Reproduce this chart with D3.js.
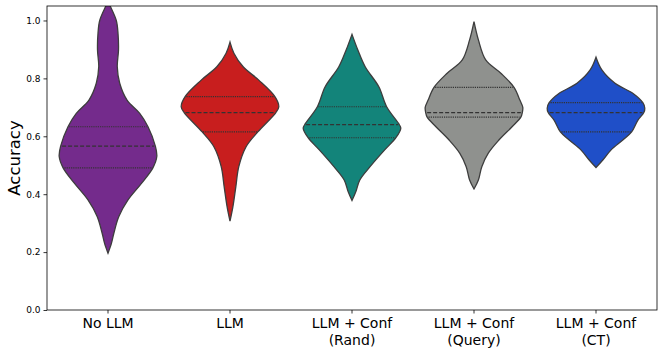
<!DOCTYPE html>
<html><head><meta charset="utf-8">
<script src="https://cdn.jsdelivr.net/npm/d3@7"></script>
<style>body{margin:0;background:#fff}</style></head>
<body><svg id="c" width="665" height="354"></svg>
<script>
const categories = ["No LLM", "LLM", "LLM + Conf\n(Rand)", "LLM + Conf\n(Query)", "LLM + Conf\n(CT)"];
const colors = ["#742b8c", "#c81e1e", "#13847a", "#8f918e", "#1f4fc8"];
const q1 = [0.491, 0.615, 0.595, 0.666, 0.615];
const medians = [0.566, 0.682, 0.640, 0.682, 0.682];
const q3 = [0.633, 0.737, 0.702, 0.769, 0.716];
const yTicks = [0, 0.2, 0.4, 0.6, 0.8, 1.0];

// density profiles: [accuracy, relative half-width]
const densityNoLLM = [[0.196,0],[0.230,0.07],[0.265,0.12],[0.322,0.22],[0.380,0.41],[0.438,0.69],[0.491,0.92],[0.530,1.0],[0.566,0.97],[0.633,0.82],[0.679,0.65],[0.725,0.39],[0.783,0.24],[0.840,0.19],[0.898,0.215],[0.956,0.205],[1.000,0.17],[1.048,0.05],[1.065,0]];
const densityLLM = [[0.307,0],[0.357,0.06],[0.426,0.12],[0.495,0.18],[0.564,0.33],[0.615,0.57],[0.682,0.94],[0.702,1.0],[0.737,0.92],[0.794,0.59],[0.840,0.27],[0.887,0.08],[0.925,0]];
const densityRand = [[0.378,0],[0.409,0.08],[0.449,0.16],[0.495,0.37],[0.553,0.67],[0.595,0.9],[0.628,1.0],[0.640,0.97],[0.702,0.71],[0.771,0.55],[0.840,0.27],[0.898,0.12],[0.952,0]];
const densityQuery = [[0.418,0],[0.449,0.09],[0.495,0.16],[0.541,0.29],[0.587,0.51],[0.633,0.78],[0.666,0.96],[0.682,0.99],[0.700,1.0],[0.725,0.94],[0.769,0.82],[0.818,0.55],[0.864,0.24],[0.933,0.09],[0.996,0]];
const densityCT = [[0.492,0],[0.518,0.14],[0.553,0.31],[0.587,0.55],[0.615,0.73],[0.656,0.86],[0.682,0.98],[0.697,1.0],[0.716,0.96],[0.748,0.76],[0.783,0.39],[0.829,0.12],[0.873,0]];
const densities = [densityNoLLM, densityLLM, densityRand, densityQuery, densityCT];

const svg = d3.select("#c");
const m = {l: 47, r: 8, t: 6, b: 44};
const W = 665, H = 354;
const x = d3.scaleBand().domain(categories).range([m.l, W - m.r]).padding(0);
const y = d3.scaleLinear().domain([0, 1.05]).range([H - m.b, m.t]);
const w = d3.scaleLinear().domain([0, 1]).range([0, x.bandwidth() * 0.4]);

svg.append("defs").append("clipPath").attr("id", "clip")
  .append("rect").attr("x", m.l).attr("y", m.t).attr("width", W - m.l - m.r).attr("height", H - m.t - m.b);

const g = svg.append("g").attr("clip-path", "url(#clip)");

function widthAt(prof, v) {
  for (let i = 1; i < prof.length; i++) {
    if (v <= prof[i][0]) {
      const a = prof[i-1], b = prof[i];
      const t = (v - a[0]) / (b[0] - a[0]);
      return a[1] + t * (b[1] - a[1]);
    }
  }
  return 0;
}

categories.forEach((c, i) => {
  const cx = x(c) + x.bandwidth() / 2;
  const prof = densities[i];
  const area = d3.area()
    .y(d => y(d[0]))
    .x0(d => cx - w(d[1]))
    .x1(d => cx + w(d[1]))
    .curve(d3.curveCatmullRom.alpha(0.5));
  g.append("path").datum(prof).attr("d", area)
    .attr("fill", colors[i]).attr("stroke", "#3d3d3d").attr("stroke-width", 1.3);
  [[q1[i], "1.2,1"], [medians[i], "4,2"], [q3[i], "1.2,1"]].forEach(([v, dash]) => {
    const hw = w(widthAt(prof, v)) * 0.97;
    g.append("line").attr("x1", cx - hw).attr("x2", cx + hw)
      .attr("y1", y(v)).attr("y2", y(v))
      .attr("stroke", "#333").attr("stroke-width", 1.2).attr("stroke-dasharray", dash);
  });
});

// axes
const yAxis = svg.append("g").attr("transform", `translate(${m.l},0)`)
  .call(d3.axisLeft(y).tickValues(yTicks).tickFormat(d3.format(".1f")).tickSize(3.5));
yAxis.select(".domain").remove();
yAxis.selectAll("text").attr("font-family", "DejaVu Sans").attr("font-size", 9).attr("fill", "#000");
yAxis.selectAll("line").attr("stroke", "#000").attr("stroke-width", 0.8);

const xAxis = svg.append("g").attr("transform", `translate(0,${H - m.b})`)
  .call(d3.axisBottom(x).tickSize(3.5).tickFormat(""));
xAxis.select(".domain").remove();
xAxis.selectAll("line").attr("stroke", "#000").attr("stroke-width", 0.8);
xAxis.selectAll(".tick").each(function(d) {
  const t = d3.select(this).append("text").attr("text-anchor", "middle")
    .attr("font-family", "DejaVu Sans").attr("font-size", 14).attr("fill", "#000");
  d.split("\n").forEach((line, k) => {
    t.append("tspan").attr("x", 0).attr("y", 18 + k * 17).text(line);
  });
});

svg.append("rect").attr("x", m.l).attr("y", m.t).attr("width", W - m.l - m.r).attr("height", H - m.t - m.b)
  .attr("fill", "none").attr("stroke", "#000").attr("stroke-width", 0.8);

svg.append("text").attr("transform", `translate(20,${(m.t + H - m.b) / 2}) rotate(-90)`)
  .attr("text-anchor", "middle").attr("font-family", "DejaVu Sans").attr("font-size", 16.5).text("Accuracy");
</script></body></html>
